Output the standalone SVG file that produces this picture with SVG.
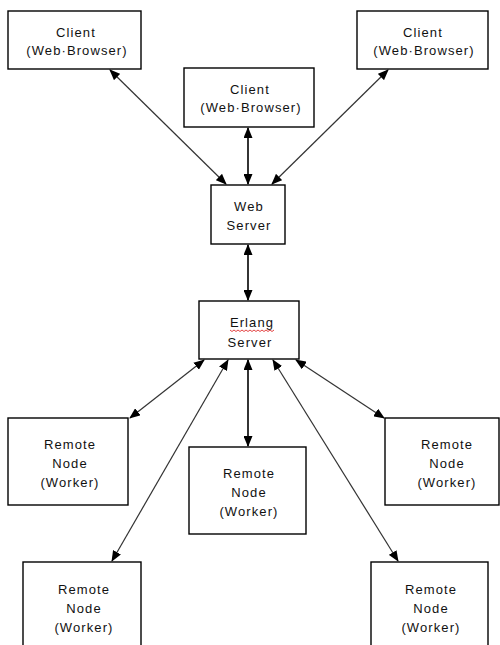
<svg xmlns="http://www.w3.org/2000/svg" width="500" height="645" viewBox="0 0 500 645">
  <style>
    .box { fill: #ffffff; stroke: #000000; stroke-width: 1.4; }
    .lbl { font-family: "Liberation Sans", Arial, sans-serif; font-size: 13px; letter-spacing: 1.1px; fill: #111111; text-anchor: middle; }
    .link { stroke: #333333; stroke-width: 1.2; fill: none; marker-start: url(#head); marker-end: url(#head); }
    .link.v { stroke: #111111; stroke-width: 1.7; }
    .spell { stroke: #e03030; stroke-width: 0.9; fill: none; }
  </style>
  <defs>
    <marker id="head" markerUnits="userSpaceOnUse" markerWidth="11" markerHeight="9" refX="10" refY="4.5" orient="auto-start-reverse">
      <path d="M0,0 L11,4.5 L0,9 z" fill="#000000"/>
    </marker>
  </defs>
  <rect width="500" height="645" fill="#ffffff"/>

  <!-- connectors -->
  <g id="connectors">
    <line class="link" x1="110" y1="70" x2="226" y2="184"/>
    <line class="link v" x1="248" y1="128" x2="248" y2="184"/>
    <line class="link" x1="388" y1="70" x2="272" y2="184"/>
    <line class="link v" x1="248" y1="245" x2="248" y2="300"/>
    <line class="link" x1="204" y1="360" x2="130" y2="418"/>
    <line class="link" x1="228" y1="360" x2="112" y2="561"/>
    <line class="link v" x1="248" y1="360" x2="248" y2="446"/>
    <line class="link" x1="273" y1="360" x2="398" y2="561"/>
    <line class="link" x1="296" y1="360" x2="384" y2="418"/>
  </g>

  <!-- browser clients -->
  <g id="client-left">
    <rect class="box" x="8" y="11" width="133" height="58"/>
    <text class="lbl" x="76" y="37">Client</text>
    <text class="lbl" x="77" y="55">(Web·Browser)</text>
  </g>
  <g id="client-middle">
    <rect class="box" x="184" y="68" width="130" height="59"/>
    <text class="lbl" x="250" y="94">Client</text>
    <text class="lbl" x="251" y="112">(Web·Browser)</text>
  </g>
  <g id="client-right">
    <rect class="box" x="357" y="11" width="131" height="58"/>
    <text class="lbl" x="423" y="37">Client</text>
    <text class="lbl" x="424" y="55">(Web·Browser)</text>
  </g>

  <!-- servers -->
  <g id="web-server">
    <rect class="box" x="211" y="185" width="74" height="59"/>
    <text class="lbl" x="249" y="211">Web</text>
    <text class="lbl" x="249" y="230">Server</text>
  </g>
  <g id="erlang-server">
    <rect class="box" x="199" y="301" width="100" height="58"/>
    <text class="lbl" x="252" y="327">Erlang</text>
    <path class="spell" d="M230,330 l2,1.5 l2,-1.5 l2,1.5 l2,-1.5 l2,1.5 l2,-1.5 l2,1.5 l2,-1.5 l2,1.5 l2,-1.5 l2,1.5 l2,-1.5 l2,1.5 l2,-1.5 l2,1.5 l2,-1.5 l2,1.5 l2,-1.5 l2,1.5 l2,-1.5 l2,1.5 l2,-1.5"/>
    <text class="lbl" x="250" y="347">Server</text>
  </g>

  <!-- worker nodes -->
  <g id="worker-left">
    <rect class="box" x="8" y="418" width="120" height="87"/>
    <text class="lbl" x="70" y="449">Remote</text>
    <text class="lbl" x="70" y="468">Node</text>
    <text class="lbl" x="70" y="487">(Worker)</text>
  </g>
  <g id="worker-middle">
    <rect class="box" x="189" y="447" width="117" height="87"/>
    <text class="lbl" x="249" y="478">Remote</text>
    <text class="lbl" x="249" y="497">Node</text>
    <text class="lbl" x="249" y="516">(Worker)</text>
  </g>
  <g id="worker-right">
    <rect class="box" x="385" y="418" width="114" height="87"/>
    <text class="lbl" x="447" y="449">Remote</text>
    <text class="lbl" x="447" y="468">Node</text>
    <text class="lbl" x="447" y="487">(Worker)</text>
  </g>
  <g id="worker-bottom-left">
    <rect class="box" x="23" y="562" width="118" height="90"/>
    <text class="lbl" x="84" y="594">Remote</text>
    <text class="lbl" x="84" y="613">Node</text>
    <text class="lbl" x="84" y="632">(Worker)</text>
  </g>
  <g id="worker-bottom-right">
    <rect class="box" x="371" y="562" width="117" height="90"/>
    <text class="lbl" x="431" y="594">Remote</text>
    <text class="lbl" x="431" y="613">Node</text>
    <text class="lbl" x="431" y="632">(Worker)</text>
  </g>
</svg>
